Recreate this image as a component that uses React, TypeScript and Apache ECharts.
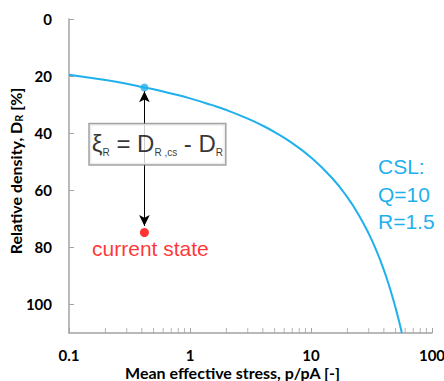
import React, { useEffect, useRef } from "react";
import * as echarts from "echarts";

// CSL curve: p/pA vs D_R [%]
const cslP = [0.1, 0.2, 0.3, 0.42, 0.5, 0.7, 1, 1.5, 2, 3, 4, 5, 7, 10, 15, 20, 25, 30, 35, 40, 45, 50, 55, 56.3];
const cslDr = [19.5, 21.4, 22.7, 24.0, 24.6, 26.1, 27.8, 30.1, 31.9, 34.9, 37.4, 39.6, 43.5, 48.5, 55.8, 62.5, 68.9, 75.2, 81.5, 87.9, 94.5, 101.2, 108.1, 110];

const csPoint = [0.42, 24.0];
const currentPoint = [0.42, 74.8];
const arrowTop = [0.42, 25.3];
const arrowBottom = [0.42, 72.5];
const boxAnchor = [0.42, 43.9];

const xTicks = [0.1, 1, 10, 100];
const minorTicks = [0.2, 0.3, 0.4, 0.5, 0.6, 0.7, 0.8, 0.9, 2, 3, 4, 5, 6, 7, 8, 9, 20, 30, 40, 50, 60, 70, 80, 90];
const yMin = 0;
const yMax = 110;
const yInterval = 20;

const BLUE = "#1fb0ee";
const AXIS = "#a3a3a3";
const LABEL_FONT = "Lato";

export default function App() {
  const ref = useRef<HTMLDivElement>(null);
  useEffect(() => {
    if (!ref.current) return;
    const chart = echarts.init(ref.current, null, { renderer: "svg" });
    chart.setOption({
      animation: false,
      backgroundColor: "#fff",
      grid: { left: 69, right: 12, top: 19, bottom: 48, containLabel: false, outerBoundsMode: "none" },
      xAxis: {
        type: "log",
        logBase: 10,
        min: xTicks[0],
        max: xTicks[xTicks.length - 1],
        name: "Mean effective stress, p/pA [-]",
        nameLocation: "middle",
        nameGap: 31,
        nameMoveOverlap: false,
        nameTextStyle: {
          fontFamily: LABEL_FONT, fontWeight: "bold", fontSize: 16, lineHeight: 16, color: "#000",
          padding: [0, 36, 0, 0],
        },
        axisLine: { onZero: false, lineStyle: { color: AXIS, width: 1.5 } },
        axisTick: { inside: true, length: 5, lineStyle: { color: AXIS } },
        minorTick: { show: false },
        splitLine: { show: false },
        axisLabel: { fontFamily: LABEL_FONT, fontWeight: "bold", fontSize: 15, lineHeight: 14, color: "#000", margin: 15 },
      },
      yAxis: {
        type: "value",
        inverse: true,
        min: yMin,
        max: yMax,
        interval: yInterval,
        name: "Relative density, D{sub|R} [%]",
        nameLocation: "middle",
        nameRotate: 90,
        nameGap: 45,
        nameMoveOverlap: false,
        nameTextStyle: {
          fontFamily: LABEL_FONT, fontWeight: "bold", fontSize: 16, color: "#000",
          padding: [0, 0, 0, 10],
          rich: { sub: { fontFamily: LABEL_FONT, fontWeight: "bold", fontSize: 11, color: "#000", padding: [7, 0, 0, 0] } },
        },
        axisLine: { show: true, lineStyle: { color: AXIS, width: 1.5 } },
        axisTick: { show: true, inside: true, length: 5, lineStyle: { color: AXIS } },
        splitLine: { show: false },
        axisLabel: {
          fontFamily: LABEL_FONT, fontWeight: "bold", fontSize: 15, color: "#000", margin: 17,
          showMaxLabel: false,
        },
      },
      series: [
        {
          type: "line",
          data: cslP.map((p, i) => [p, cslDr[i]]),
          showSymbol: false,
          smooth: true,
          lineStyle: { color: BLUE, width: 2 },
          silent: true,
          z: 3,
          markLine: {
            silent: true,
            symbol: ["arrow", "arrow"],
            symbolSize: [8, 11],
            label: { show: false },
            lineStyle: { color: "#000", width: 1, type: "solid" },
            data: [[{ coord: arrowTop }, { coord: arrowBottom }]],
          },
        },
        {
          type: "scatter",
          data: minorTicks.map((p) => [p, yMax]),
          symbol: "rect",
          symbolSize: [1, 5],
          symbolOffset: [0, -2.5],
          itemStyle: { color: AXIS },
          silent: true,
          clip: false,
        },
        {
          type: "scatter",
          data: [csPoint],
          symbolSize: 8,
          itemStyle: { color: BLUE },
          z: 4,
        },
        {
          type: "scatter",
          data: [currentPoint],
          symbolSize: 9,
          itemStyle: { color: "#ff0000" },
          z: 4,
          label: {
            show: true,
            position: "bottom",
            distance: 1,
            offset: [6, 0],
            formatter: "current state",
            color: "#ff0000",
            fontFamily: "Liberation Sans",
            fontSize: 21,
          },
        },
        {
          type: "scatter",
          data: [boxAnchor],
          symbolSize: 0,
          z: 6,
          label: {
            show: true,
            position: "inside",
            offset: [13, 0],
            formatter: "ξ{sub|R} = D{sub|R ,cs} - D{sub|R}",
            color: "#000",
            fontFamily: "Liberation Sans",
            fontSize: 24,
            lineHeight: 28,
            backgroundColor: "#fff",
            borderColor: "#8c8c8c",
            borderWidth: 1.5,
            padding: [5, 2, 7, 2],
            rich: {
              sub: { fontFamily: "Liberation Sans", fontSize: 10, lineHeight: 12, verticalAlign: "bottom", color: "#000" },
            },
          },
        },
      ],
      graphic: [
        {
          type: "text",
          left: 378,
          top: 153,
          style: {
            text: "CSL:\nQ=10\nR=1.5",
            fill: BLUE,
            fontFamily: "Liberation Sans",
            fontSize: 21,
            lineHeight: 27.5,
          },
        },
      ],
    });
    return () => chart.dispose();
  }, []);
  return <div ref={ref} style={{ position: "absolute", left: 0, top: 0, width: 444, height: 381 }} />;
}
